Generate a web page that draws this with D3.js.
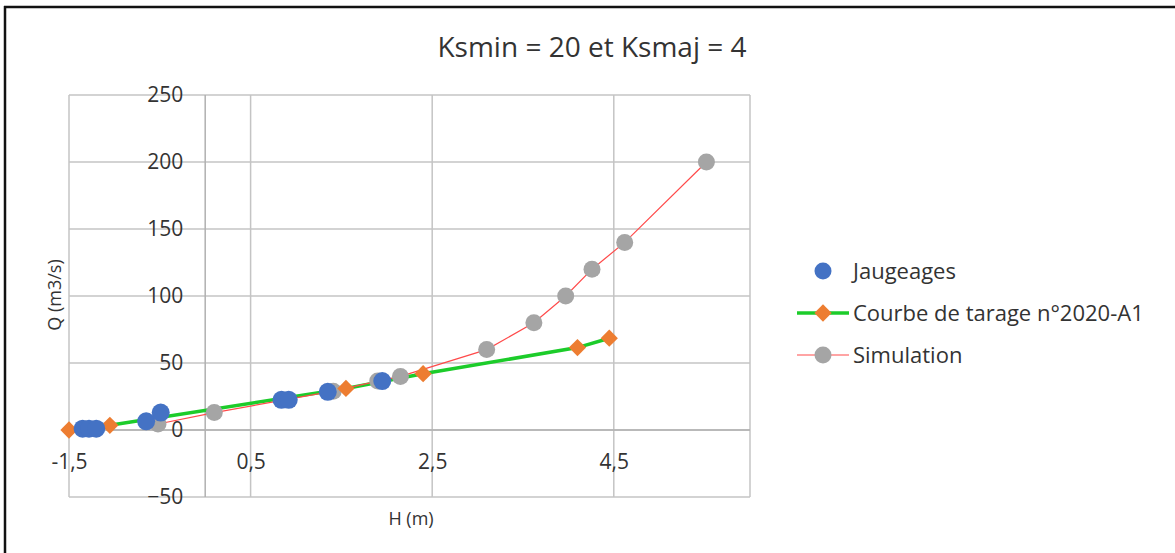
<!DOCTYPE html>
<html>
<head>
<meta charset="utf-8">
<script src="https://cdn.jsdelivr.net/npm/d3@7"></script>
<style>
  body { margin: 0; background: #fff; }
  text { font-family: "Open Sans", sans-serif; fill: #333; }
</style>
</head>
<body>
<div id="chart"></div>
<script>
// data
var jaugeH = [-1.35, -1.28, -1.2, -0.65, -0.49, 0.84, 0.92, 1.35, 1.95];
var jaugeQ = [1, 1, 1, 6.5, 13, 22.5, 22.5, 28.5, 36.5];

var courbeH = [-1.5, -1.05, 1.55, 2.4, 4.1, 4.45];
var courbeQ = [0, 3.5, 31, 42, 61.5, 68.5];

var simH = [-0.52, 0.1, 1.41, 1.9, 2.15, 3.1, 3.62, 3.97, 4.26, 4.62, 5.52];
var simQ = [4.5, 13, 29, 36.5, 40, 60, 80, 100, 120, 140, 200];

var xTicks = [-1.5, 0.5, 2.5, 4.5];
var yTicks = [-50, 0, 50, 100, 150, 200, 250];

var svgWidth = 1175;
var svgHeight = 553;

var svg = d3.select("#chart")
    .append("svg")
    .attr("width", svgWidth)
    .attr("height", svgHeight);

// frame (top and left edges only, like the screenshot)
svg.append("line").attr("x1", 4).attr("x2", svgWidth).attr("y1", 7).attr("y2", 7)
    .attr("stroke", "#111").attr("stroke-width", 2.5);
svg.append("line").attr("x1", 5).attr("x2", 5).attr("y1", 6).attr("y2", svgHeight)
    .attr("stroke", "#111").attr("stroke-width", 2.5);

var x = d3.scaleLinear().domain([-1.5, 6]).range([69, 750]);
var y = d3.scaleLinear().domain([-50, 250]).range([497, 95]);

var fmt = d => String(d).replace(".", ",");

// grid
var grid = svg.append("g");
grid.selectAll(".hg")
    .data(yTicks)
    .enter()
    .append("line")
    .attr("x1", x(-1.5)).attr("x2", x(6))
    .attr("y1", d => y(d)).attr("y2", d => y(d))
    .attr("stroke", "#c4c4c4").attr("stroke-width", 1.5);
grid.selectAll(".vg")
    .data(xTicks.concat([6]))
    .enter()
    .append("line")
    .attr("x1", d => x(d)).attr("x2", d => x(d))
    .attr("y1", y(250)).attr("y2", y(-50))
    .attr("stroke", "#c4c4c4").attr("stroke-width", 1.5);

// axes crossing at 0
var xAxis = svg.append("g")
    .attr("transform", `translate(0, ${y(0)})`)
    .call(d3.axisBottom(x).tickValues(xTicks).tickFormat(fmt).tickSize(0).tickPadding(24));
var yAxis = svg.append("g")
    .attr("transform", `translate(${x(0)}, 0)`)
    .call(d3.axisLeft(y).tickValues(yTicks).tickSize(0).tickPadding(22));

[xAxis, yAxis].forEach(function(a) {
    a.select(".domain").attr("stroke", "#b0b0b0").attr("stroke-width", 1.5);
    a.selectAll("text")
        .style("font-family", "'Open Sans', sans-serif")
        .style("font-size", "21px")
        .attr("fill", "#333");
});
yAxis.select(".domain").attr("d", `M0,${y(250)}V${y(-50)}`);
xAxis.select(".domain").attr("d", `M${x(-1.5)},0H${x(6)}`);

// lines
var sim = simH.map((h, i) => [h, simQ[i]]);
var courbe = courbeH.map((h, i) => [h, courbeQ[i]]);
var jauge = jaugeH.map((h, i) => [h, jaugeQ[i]]);

var line = d3.line().x(d => x(d[0])).y(d => y(d[1]));

svg.append("path")
    .datum(courbe)
    .attr("d", line)
    .attr("fill", "none")
    .attr("stroke", "#1ccc2a")
    .attr("stroke-width", 3.5);

svg.append("path")
    .datum(sim)
    .attr("d", line)
    .attr("fill", "none")
    .attr("stroke", "#ff4a4a")
    .attr("stroke-width", 1.2);

// markers
svg.selectAll(".sim")
    .data(sim)
    .enter()
    .append("circle")
    .attr("cx", d => x(d[0]))
    .attr("cy", d => y(d[1]))
    .attr("r", 8.5)
    .attr("fill", "#a5a5a5");

var diamond = d3.symbol().type(d3.symbolDiamond2).size(190);
svg.selectAll(".courbe")
    .data(courbe)
    .enter()
    .append("path")
    .attr("d", diamond)
    .attr("transform", d => `translate(${x(d[0])}, ${y(d[1])})`)
    .attr("fill", "#ed7d31");

svg.selectAll(".jauge")
    .data(jauge)
    .enter()
    .append("circle")
    .attr("cx", d => x(d[0]))
    .attr("cy", d => y(d[1]))
    .attr("r", 9)
    .attr("fill", "#4472c4");

// title and axis labels
svg.append("text")
    .attr("x", 592)
    .attr("y", 57)
    .attr("text-anchor", "middle")
    .style("font-size", "28px")
    .text("Ksmin = 20 et Ksmaj = 4");

svg.append("text")
    .attr("transform", "translate(61, 295) rotate(-90)")
    .attr("text-anchor", "middle")
    .style("font-size", "18px")
    .text("Q (m3/s)");

svg.append("text")
    .attr("x", 411)
    .attr("y", 525)
    .attr("text-anchor", "middle")
    .style("font-size", "18px")
    .text("H (m)");

// legend
var legend = svg.append("g").attr("transform", "translate(797, 0)");
var rows = [
    { name: "Jaugeages", y: 271 },
    { name: "Courbe de tarage n°2020-A1", y: 313 },
    { name: "Simulation", y: 355 }
];
legend.append("circle").attr("cx", 26).attr("cy", rows[0].y).attr("r", 8.5).attr("fill", "#4472c4");
legend.append("line").attr("x1", 0).attr("x2", 52).attr("y1", rows[1].y).attr("y2", rows[1].y)
    .attr("stroke", "#1ccc2a").attr("stroke-width", 3.5);
legend.append("path").attr("d", diamond).attr("transform", `translate(26, ${rows[1].y})`).attr("fill", "#ed7d31");
legend.append("line").attr("x1", 0).attr("x2", 52).attr("y1", rows[2].y).attr("y2", rows[2].y)
    .attr("stroke", "#ff4a4a").attr("stroke-width", 1.2);
legend.append("circle").attr("cx", 26).attr("cy", rows[2].y).attr("r", 8.5).attr("fill", "#a5a5a5");

legend.selectAll(".lt")
    .data(rows)
    .enter()
    .append("text")
    .attr("x", 56)
    .attr("y", d => d.y)
    .attr("dy", "0.35em")
    .style("font-size", "22px")
    .text(d => d.name);
</script>
</body>
</html>
